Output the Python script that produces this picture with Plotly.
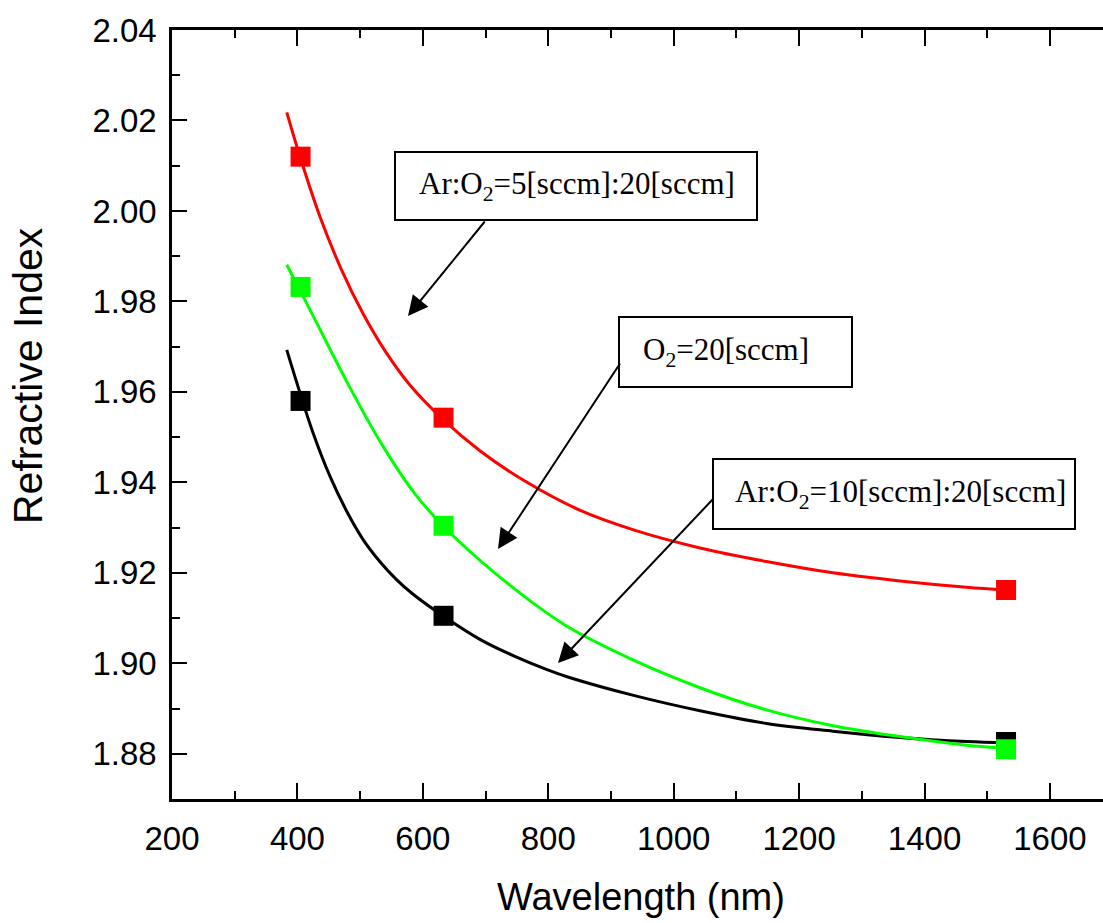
import plotly.graph_objects as go

# ---- measured points (square markers) ----
wavelength = [405, 633, 1530]
n_ar5 = [2.0120, 1.9543, 1.9162]      # Ar:O2 = 5:20 sccm
n_o2 = [1.9832, 1.9304, 1.8810]       # O2 = 20 sccm
n_ar10 = [1.9580, 1.9105, 1.8826]     # Ar:O2 = 10:20 sccm

# ---- dispersion fit curves ----
ar5_fit_wl = [383, 405, 436, 470, 505, 540, 580, 633, 691, 760, 851, 936, 1042, 1148,
              1254, 1361, 1467, 1530]
ar5_fit_n = [2.0218, 2.0116, 1.9987, 1.9871, 1.9772, 1.9690, 1.9614, 1.9538, 1.9470, 1.9405,
             1.9338, 1.9295, 1.9255, 1.9225, 1.9200, 1.9182, 1.9168, 1.9162]

o2_fit_wl = [383, 425, 479, 532, 585, 633, 718, 824, 936, 1042, 1148, 1254, 1361, 1467, 1530]
o2_fit_n = [1.9881, 1.9768, 1.9622, 1.9490, 1.9379, 1.9303, 1.9196, 1.9087, 1.9007, 1.8946,
            1.8897, 1.8862, 1.8838, 1.8819, 1.8812]

ar10_fit_wl = [383, 425, 452, 479, 505, 532, 558, 585, 633, 691, 744, 798, 835, 936, 1042,
               1148, 1254, 1361, 1467, 1530]
ar10_fit_n = [1.9693, 1.9509, 1.9413, 1.9335, 1.9273, 1.9224, 1.9185, 1.9152, 1.9104, 1.9053,
              1.9017, 1.8986, 1.8968, 1.8929, 1.8895, 1.8867, 1.8850, 1.8836, 1.8827, 1.8824]

labels = ["Ar:O<sub>2</sub>=5[sccm]:20[sccm]",
          "O<sub>2</sub>=20[sccm]",
          "Ar:O<sub>2</sub>=10[sccm]:20[sccm]"]

RED, GREEN, BLACK = "#ff0000", "#00ff00", "#000000"

# plot area in page pixels
W, H = 1103, 923
PL, PR, PT, PB = 172, 1103, 30, 799


def px_x(px):
    return (px - PL) / (PR - PL)


def px_y(py):
    return (PB - py) / (PB - PT)


fig = go.Figure()

for wl, n, c in [(ar5_fit_wl, ar5_fit_n, RED),
                 (ar10_fit_wl, ar10_fit_n, BLACK),
                 (o2_fit_wl, o2_fit_n, GREEN)]:
    fig.add_trace(go.Scatter(x=wl, y=n, mode="lines",
                             line=dict(color=c, width=3, shape="spline", smoothing=1.0),
                             showlegend=False, hoverinfo="skip"))

for n, c in [(n_ar5, RED), (n_ar10, BLACK), (n_o2, GREEN)]:
    fig.add_trace(go.Scatter(x=wavelength, y=n, mode="markers",
                             marker=dict(symbol="square", size=20, color=c, line=dict(width=0)),
                             showlegend=False))

tick_font = dict(family="Liberation Sans", size=33, color="black")

fig.update_layout(
    width=W, height=H,
    margin=dict(l=PL, r=W - PR, t=PT, b=H - PB),
    paper_bgcolor="white", plot_bgcolor="white",
    xaxis=dict(range=[200, 200 + (PR - PL) / 0.6271], tick0=200, dtick=200,
               ticks="inside", ticklen=16, tickwidth=2, tickcolor="black",
               minor=dict(ticks="inside", dtick=100, ticklen=8, tickwidth=2, tickcolor="black"),
               showline=True, linewidth=2.5, linecolor="black", mirror="ticks",
               showgrid=False, zeroline=False, tickfont=tick_font, ticklabelstandoff=9),
    yaxis=dict(range=[1.87, 2.04], tick0=1.88, dtick=0.02, tickformat=".2f",
               ticks="inside", ticklen=15, tickwidth=2, tickcolor="black",
               minor=dict(ticks="inside", dtick=0.01, ticklen=8, tickwidth=2, tickcolor="black"),
               showline=True, linewidth=2.5, linecolor="black",
               showgrid=False, zeroline=False, tickfont=tick_font, ticklabelstandoff=6),
    yaxis2=dict(range=[1.87, 2.04], tick0=1.88, dtick=0.02, overlaying="y", side="right",
                ticks="inside", ticklen=6, tickwidth=2, tickcolor="black",
                showline=False, showgrid=False, zeroline=False, showticklabels=False),
)

# axis titles
fig.add_annotation(text="Wavelength (nm)", xref="paper", yref="paper",
                   x=px_x(640.5), y=px_y(897), xanchor="center", yanchor="middle",
                   showarrow=False, font=dict(family="Liberation Sans", size=38, color="black"))
fig.add_annotation(text="Refractive Index", xref="paper", yref="paper",
                   x=px_x(28), y=px_y(376), xanchor="center", yanchor="middle", textangle=-90,
                   showarrow=False, font=dict(family="Liberation Sans", size=41, color="black"))

# label boxes: (left, right, top, bottom, text-left)
boxes = [(395, 757, 152, 220, 417),
         (619, 852, 317, 387, 641),
         (713, 1075, 459, 529, 733)]
for (x0, x1, y0, y1, tx), txt in zip(boxes, labels):
    fig.add_shape(type="rect", xref="paper", yref="paper",
                  x0=px_x(x0), x1=px_x(x1), y0=px_y(y1), y1=px_y(y0),
                  line=dict(color="black", width=2), fillcolor="white", layer="above")
    fig.add_annotation(text=txt, xref="paper", yref="paper",
                       x=px_x(tx), y=px_y((y0 + y1) / 2), xanchor="left", yanchor="middle",
                       showarrow=False,
                       font=dict(family="Liberation Serif", size=31, color="black"))

# arrows: head position and tail position in page pixels
arrows = [((408, 316), (486, 220)),
          ((498, 549), (621, 362)),
          ((558, 663), (714, 498))]
for (hx, hy), (tx, ty) in arrows:
    fig.add_annotation(text="", xref="paper", yref="paper",
                       x=px_x(hx), y=px_y(hy), axref="pixel", ayref="pixel",
                       ax=tx - hx, ay=ty - hy, showarrow=True,
                       arrowhead=2, arrowsize=2, arrowwidth=2, arrowcolor="black")

fig.write_html("out.html")
